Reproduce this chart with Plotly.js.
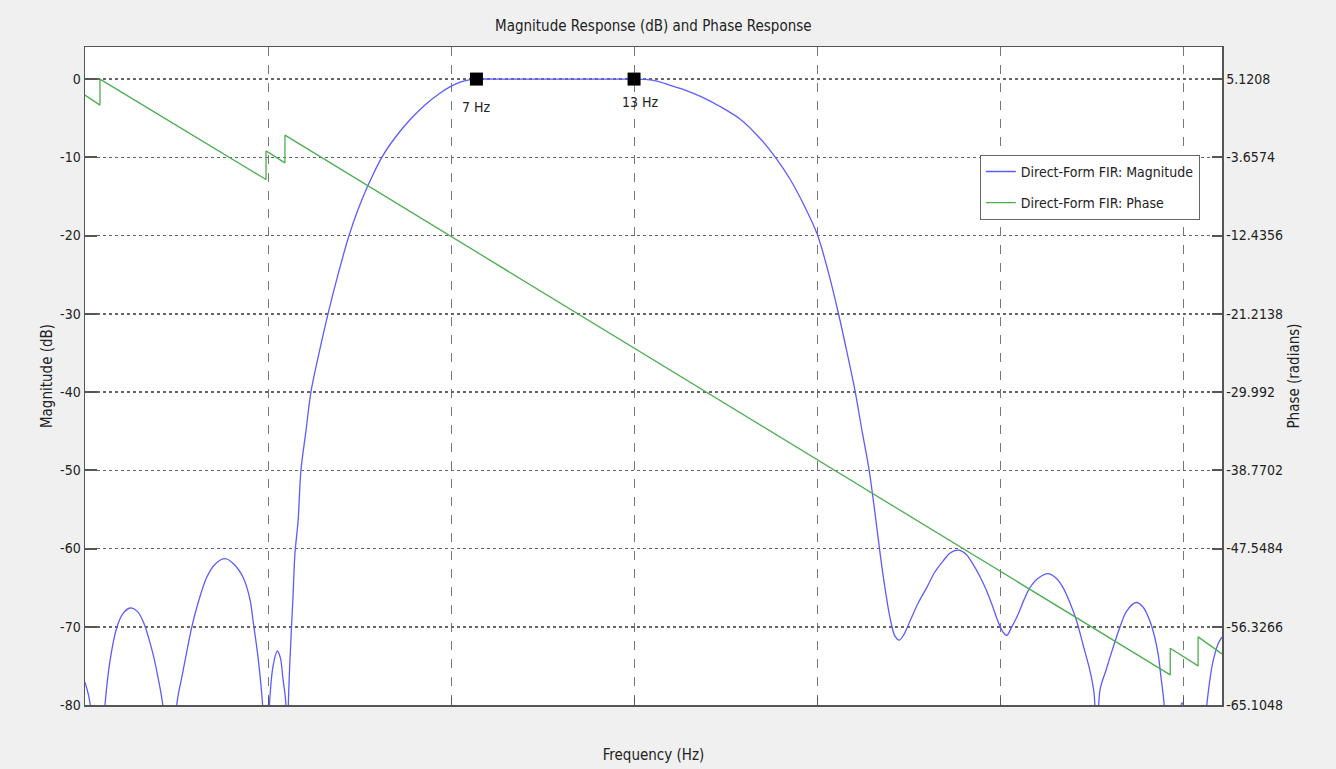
<!DOCTYPE html>
<html>
<head>
<meta charset="utf-8">
<script src="https://cdn.plot.ly/plotly-3.0.1.min.js"></script>
<style>
html,body{margin:0;padding:0;background:#f0f0f0;}
#chart{width:1336px;height:769px;}
</style>
</head>
<body>
<div id="chart"></div>
<script>
// Magnitude response (dB) vs frequency (Hz)
const magFreq = [-7.90,-7.75,-7.63,-7.40,-7.18,-7.14,-6.95,-6.69,-6.45,-6.18,-5.92,-5.69,-5.31,-5.12,-4.94,-4.66,-4.41,-4.17,-3.84,-3.60,-3.27,-2.95,-2.57,-2.23,-1.88,-1.62,-1.50,-1.31,-1.14,-1.01,-0.88,-0.74,-0.58,-0.46,-0.37,-0.25,-0.20,-0.16,-0.10,0.02,0.09,0.21,0.32,0.51,0.70,1.01,1.35,1.73,2.15,2.49,2.87,3.40,3.90,4.47,5.04,5.61,5.99,6.38,6.83,7.00,8.00,9.00,10.00,11.00,12.00,13.00,13.42,13.91,14.37,14.94,15.59,16.27,17.03,17.72,18.36,18.94,19.51,19.97,20.39,20.77,21.11,21.42,21.68,21.95,22.21,22.38,22.55,22.74,22.93,23.10,23.27,23.50,23.81,24.14,24.45,24.76,25.02,25.33,25.63,25.90,26.17,26.42,26.66,26.85,27.05,27.19,27.35,27.62,27.85,28.07,28.38,28.76,29.07,29.33,29.60,29.85,30.09,30.36,30.51,30.61,30.74,30.97,31.23,31.50,31.75,32.11,32.38,32.64,32.83,32.95,33.06,33.18,33.41,33.79,33.86,33.94,34.36,34.80,34.93,35.04,35.23,35.38];
const magDb = [-77.1,-79,-82,-95,-82,-80,-74.4,-70.1,-68.3,-67.6,-68.0,-69.3,-73.5,-76.5,-80,-95,-80,-75.7,-70.1,-67,-63.7,-62.0,-61.3,-62.0,-63.7,-66.5,-69.3,-74,-80,-95,-80,-75,-73.1,-74,-76.5,-80,-95,-80,-74.4,-66,-60.7,-56.5,-50,-45,-40,-35,-30,-25,-20,-16.7,-13.6,-10,-7.5,-5.2,-3.3,-1.8,-1.0,-0.4,-0.05,0,0,0,0,0,0,0,-0.05,-0.3,-0.8,-1.4,-2.3,-3.5,-5.1,-7.3,-9.9,-12.8,-16.4,-19.8,-24.6,-29.8,-35,-40,-45,-50,-56.5,-61,-65,-68.8,-71.2,-71.7,-71,-69.3,-67,-65,-63,-61.6,-60.6,-60.2,-60.7,-62,-63.6,-65.4,-67.5,-69.3,-70.7,-71.1,-70.2,-68.4,-66.5,-65,-63.8,-63.2,-63.8,-65,-67,-69.3,-72.3,-75.7,-78.5,-85,-78,-75.5,-72.7,-70,-68,-66.9,-67.5,-69.3,-71.5,-73.5,-76.5,-80,-95,-80.5,-79.7,-80.5,-95,-80,-76.5,-74.4,-72.2,-71.3];

// Phase response (radians) vs frequency (Hz)
const phaseFreq = [-7.90,-7.33,-7.33,-1.01,-1.01,-0.29,-0.29,33.41,33.41,34.47,34.47,35.38];
const phaseRad = [3.32,2.20,5.12,-6.15,-2.94,-4.28,-1.17,-61.73,-58.73,-60.72,-57.46,-59.37];

// Data-tip markers
const markerFreq = [7, 13];
const markerDb = [0, 0];
const markerText = ["7 Hz", "13 Hz"];

// Axis ticks
const magTickVals = [0,-10,-20,-30,-40,-50,-60,-70,-80];
const magTickText = ["0","-10","-20","-30","-40","-50","-60","-70","-80"];
const phaseTickVals = [5.1208,-3.6574,-12.4356,-21.2138,-29.992,-38.7702,-47.5484,-56.3266,-65.1048];
const phaseTickText = ["5.1208","-3.6574","-12.4356","-21.2138","-29.992","-38.7702","-47.5484","-56.3266","-65.1048"];

const magRange = [-80, 4.1];
const phaseSpanPerDb = (phaseTickVals[0] - phaseTickVals[phaseTickVals.length-1]) / (magTickVals[0] - magTickVals[magTickVals.length-1]);
const phaseRange = [phaseTickVals[phaseTickVals.length-1] + (magRange[0]-magTickVals[magTickVals.length-1])*phaseSpanPerDb,
                    phaseTickVals[0] + (magRange[1]-magTickVals[0])*phaseSpanPerDb];

const FONT = '"DejaVu Sans Condensed", "Liberation Sans Narrow", "Arial Narrow", "Liberation Sans", Arial, sans-serif';

const traces = [
  {x: magFreq, y: magDb, type: 'scatter', mode: 'lines', name: 'Direct-Form FIR: Magnitude', legendgroup: 'm',
   line: {color: '#5c5cff', width: 1.3, shape: 'spline', smoothing: 0.9}},
  {x: phaseFreq, y: phaseRad, type: 'scatter', mode: 'lines', name: 'Direct-Form FIR: Phase', yaxis: 'y2', legendgroup: 'p',
   line: {color: '#4caf50', width: 1.3}},
  {x: markerFreq, y: markerDb, type: 'scatter', mode: 'markers', showlegend: false,
   marker: {symbol: 'square', size: 13, color: '#000'}}
];

const annotations = markerFreq.map((f, i) => ({
  x: f, y: markerDb[i], xref: 'x', yref: 'y', text: markerText[i], showarrow: false,
  yanchor: 'top', yshift: -18 + i * 5, xshift: i * 6,
  font: {family: FONT, size: 14, color: '#222'}
}));

const axisLine = '#555';
const layout = {
  width: 1336, height: 769,
  paper_bgcolor: '#f0f0f0', plot_bgcolor: '#ffffff',
  margin: {l: 85, r: 114, t: 47, b: 64},
  font: {family: FONT, size: 13, color: '#222'},
  title: {text: 'Magnitude Response (dB) and Phase Response', x: 0.489, xanchor: 'center', y: 0.967, yanchor: 'middle',
          font: {family: FONT, size: 15, color: '#222'}},
  showlegend: true,
  annotations: annotations,
  legend: {x: 0.787, y: 0.836, xanchor: 'left', yanchor: 'top', bgcolor: '#ffffff', bordercolor: '#666', borderwidth: 1,
           font: {family: FONT, size: 14, color: '#222'}, tracegroupgap: 10},
  xaxis: {range: [-7.90, 35.38], tick0: -0.932, dtick: 6.966, showticklabels: false,
          ticks: 'inside', ticklen: 8, tickcolor: axisLine,
          showgrid: true, gridcolor: '#777', griddash: 'dash', gridwidth: 1,
          showline: true, linecolor: axisLine, linewidth: 1.5, mirror: true, zeroline: false,
          title: {text: 'Frequency (Hz)', standoff: 44, font: {family: FONT, size: 15, color: '#222'}}},
  yaxis: {range: magRange, tickvals: magTickVals, ticktext: magTickText,
          ticks: 'inside', ticklen: 12, tickcolor: axisLine, tickwidth: 2,
          showgrid: true, gridcolor: '#666', griddash: 'dot', gridwidth: 1.5,
          showline: true, linecolor: axisLine, linewidth: 1.5, zeroline: false,
          tickfont: {family: FONT, size: 14, color: '#222'},
          title: {text: 'Magnitude (dB)', standoff: 4, font: {family: FONT, size: 15, color: '#222'}}},
  yaxis2: {range: phaseRange, overlaying: 'y', side: 'right', tickvals: phaseTickVals, ticktext: phaseTickText,
           ticks: 'inside', ticklen: 10, tickcolor: axisLine, tickwidth: 2, showgrid: false, zeroline: false,
           showline: true, linecolor: axisLine, linewidth: 1.5,
           tickfont: {family: FONT, size: 14, color: '#222'},
           title: {text: 'Phase (radians)', standoff: 6, font: {family: FONT, size: 15, color: '#222'}}}
};

Plotly.newPlot('chart', traces, layout, {displayModeBar: false, staticPlot: true});
</script>
</body>
</html>
